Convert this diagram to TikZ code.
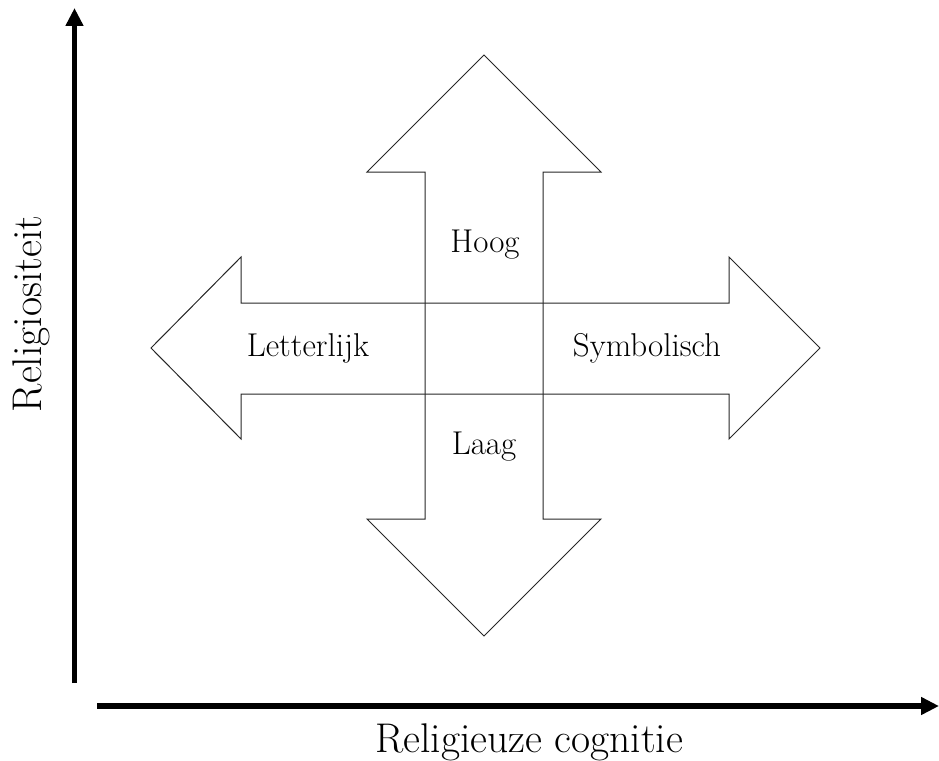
\documentclass[tikz,border=0pt]{standalone}
\usetikzlibrary{arrows.meta}
\begin{document}
\begin{tikzpicture}[x=1pt,y=-1pt,
  outline/.style={draw=black!85,line width=1pt,line join=miter},
  lbl/.style={font=\fontsize{33}{37}\selectfont,inner sep=0pt},
  axislbl/.style={font=\fontsize{41.5}{46}\selectfont,inner sep=0pt},
  axis/.style={line width=5.6pt,-{Triangle[length=18pt,width=17pt]}}]
\useasboundingbox (0,0) rectangle (939,760);
% axes
\coordinate (yb) at (74.5,683);
\coordinate (yt) at (74.5,8);
\coordinate (xl) at (97,706);
\coordinate (xr) at (939,706);
\draw[axis] (yb) -- (yt);
\draw[axis] (xl) -- (xr);
% vertical double arrow
\draw[outline] (484,55) -- (601,172) -- (543,172) -- (543,519) -- (601,519)
  -- (484,636) -- (367,519) -- (425,519) -- (425,172) -- (367,172) -- cycle;
% horizontal double arrow
\draw[outline] (151,348) -- (241,257) -- (241,303) -- (729,303) -- (729,257)
  -- (820,348) -- (729,439) -- (729,394) -- (241,394) -- (241,439) -- cycle;
% labels
\node[lbl] (hoog) at (485,245) {Hoog};
\node[lbl] (laag) at (484,447) {Laag};
\node[lbl] (letterlijk) at (308,348) {Letterlijk};
\node[lbl] (symbolisch) at (647,348) {Symbolisch};
\node[axislbl,anchor=base west] (xlab) at (375,752) {Religieuze cognitie};
\node[axislbl,rotate=90] (ylab) at (31,314) {Religiositeit};
\end{tikzpicture}
\end{document}
